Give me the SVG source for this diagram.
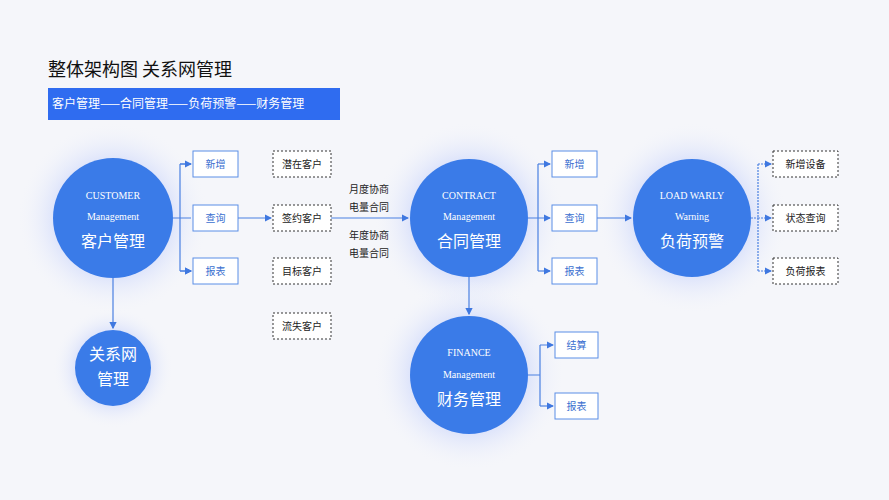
<svg xmlns="http://www.w3.org/2000/svg" width="889" height="500" viewBox="0 0 889 500">
<defs>
<radialGradient id="glow"><stop offset="0.5" stop-color="#c9d4fb" stop-opacity="0.9"/><stop offset="1" stop-color="#f3f5fb" stop-opacity="0"/></radialGradient>
<marker id="ar" markerWidth="6" markerHeight="6" refX="5" refY="3" orient="auto"><path d="M0,0 L6,3 L0,6 z" fill="#3f78e0"/></marker>
<style>
.c{fill:#3a7be8}
.en{font-family:"Liberation Serif",serif;font-size:10px;fill:#fff;text-anchor:middle}
.zh{font-family:"Noto Sans CJK SC",sans-serif;font-size:16px;fill:#fff;text-anchor:middle}
.b{fill:#fff;stroke:#5b8ee6;stroke-width:1}
.d{fill:#fff;stroke:#333;stroke-width:1;stroke-dasharray:2,2}
.bt{font-family:"Noto Sans CJK SC",sans-serif;font-size:10px;fill:#3a6fd0;text-anchor:middle}
.dt{font-family:"Noto Sans CJK SC",sans-serif;font-size:10px;fill:#222;text-anchor:middle}
.l{stroke:#4a80e2;stroke-width:1.2;fill:none}
</style>
</defs>
<rect width="889" height="500" fill="#f5f6fa"/>
<circle cx="113" cy="218" r="95" fill="url(#glow)"/>
<circle cx="469" cy="218" r="95" fill="url(#glow)"/>
<circle cx="692" cy="218" r="95" fill="url(#glow)"/>
<circle cx="469" cy="375" r="95" fill="url(#glow)"/>
<circle cx="113" cy="368" r="60" fill="url(#glow)"/>
<text x="48" y="76" font-family="Noto Sans CJK SC,sans-serif" font-size="18" fill="#111">整体架构图 关系网管理</text>
<rect x="48" y="88" width="292" height="32" fill="#2f6cf0"/>
<text x="52" y="108" font-family="Noto Sans CJK SC,sans-serif" font-size="12" fill="#fff">客户管理——合同管理——负荷预警——财务管理</text>
<g id="connectors">
<path class="l" d="M173,218 H180 M180,164 V271 M180,164 H191 M180,218 H191 M180,271 H191" marker-end="url(#ar)"/>
<path class="l" d="M180,164 H191" marker-end="url(#ar)"/>
<path class="l" d="M180,271 H191" marker-end="url(#ar)"/>
<path class="l" d="M238,218 H271" marker-end="url(#ar)"/>
<path class="l" d="M331,218 H408" marker-end="url(#ar)"/>
<path class="l" d="M113,278 V328" marker-end="url(#ar)"/>
<path class="l" d="M528,218 H538 M538,164 V271 M538,218 H550" marker-end="url(#ar)"/>
<path class="l" d="M538,164 H550" marker-end="url(#ar)"/>
<path class="l" d="M538,271 H550" marker-end="url(#ar)"/>
<path class="l" d="M597,218 H631" marker-end="url(#ar)"/>
<path class="l" d="M469,277 V314" marker-end="url(#ar)"/>
<path class="l" d="M528,375 H540 M540,345 V406 M540,345 H553" marker-end="url(#ar)"/>
<path class="l" d="M540,406 H553" marker-end="url(#ar)"/>
<path class="l" d="M751,218 H758 M758,164 V271 M758,218 H771" stroke-dasharray="2,1" marker-end="url(#ar)"/>
<path class="l" d="M758,164 H771" stroke-dasharray="2,1" marker-end="url(#ar)"/>
<path class="l" d="M758,271 H771" stroke-dasharray="2,1" marker-end="url(#ar)"/>
<text class="dt" x="369" y="193">月度协商</text>
<text class="dt" x="369" y="211">电量合同</text>
<text class="dt" x="369" y="239">年度协商</text>
<text class="dt" x="369" y="257">电量合同</text>
</g>
<g id="customer"><circle class="c" cx="113" cy="218" r="60"/><text class="en" x="113" y="199">CUSTOMER</text><text class="en" x="113" y="220">Management</text><text class="zh" x="113" y="247">客户管理</text></g>
<g id="relation"><circle class="c" cx="113" cy="368" r="38"/><text class="zh" x="113" y="360" font-size="13">关系网</text><text class="zh" x="113" y="385" font-size="13">管理</text></g>
<g id="contract"><circle class="c" cx="469" cy="218" r="59"/><text class="en" x="469" y="199">CONTRACT</text><text class="en" x="469" y="220">Management</text><text class="zh" x="469" y="247">合同管理</text></g>
<g id="load"><circle class="c" cx="692" cy="218" r="59"/><text class="en" x="692" y="199">LOAD WARLY</text><text class="en" x="692" y="220">Warning</text><text class="zh" x="692" y="247">负荷预警</text></g>
<g id="finance"><circle class="c" cx="469" cy="375" r="59"/><text class="en" x="469" y="356">FINANCE</text><text class="en" x="469" y="378">Management</text><text class="zh" x="469" y="405">财务管理</text></g>
<g id="c-add"><rect class="b" x="193" y="151" width="45" height="26"/><text class="bt" x="215.5" y="168">新增</text></g>
<g id="c-query"><rect class="b" x="193" y="205" width="45" height="26"/><text class="bt" x="215.5" y="222">查询</text></g>
<g id="c-report"><rect class="b" x="193" y="258" width="45" height="26"/><text class="bt" x="215.5" y="275">报表</text></g>
<g id="potential"><rect class="d" x="273" y="151" width="58" height="26"/><text class="dt" x="302" y="168">潜在客户</text></g>
<g id="signed"><rect class="d" x="273" y="205" width="58" height="26"/><text class="dt" x="302" y="222">签约客户</text></g>
<g id="target"><rect class="d" x="273" y="258" width="58" height="26"/><text class="dt" x="302" y="275">目标客户</text></g>
<g id="lost"><rect class="d" x="273" y="313" width="58" height="26"/><text class="dt" x="302" y="330">流失客户</text></g>
<g id="k-add"><rect class="b" x="552" y="151" width="45" height="26"/><text class="bt" x="574.5" y="168">新增</text></g>
<g id="k-query"><rect class="b" x="552" y="205" width="45" height="26"/><text class="bt" x="574.5" y="222">查询</text></g>
<g id="k-report"><rect class="b" x="552" y="258" width="45" height="26"/><text class="bt" x="574.5" y="275">报表</text></g>
<g id="l-add"><rect class="d" x="773" y="151" width="65" height="26"/><text class="dt" x="805.5" y="168">新增设备</text></g>
<g id="l-state"><rect class="d" x="773" y="205" width="65" height="26"/><text class="dt" x="805.5" y="222">状态查询</text></g>
<g id="l-report"><rect class="d" x="773" y="258" width="65" height="26"/><text class="dt" x="805.5" y="275">负荷报表</text></g>
<g id="f-settle"><rect class="b" x="555" y="332" width="43" height="26"/><text class="bt" x="576.5" y="349">结算</text></g>
<g id="f-report"><rect class="b" x="555" y="393" width="43" height="26"/><text class="bt" x="576.5" y="410">报表</text></g>
</svg>
